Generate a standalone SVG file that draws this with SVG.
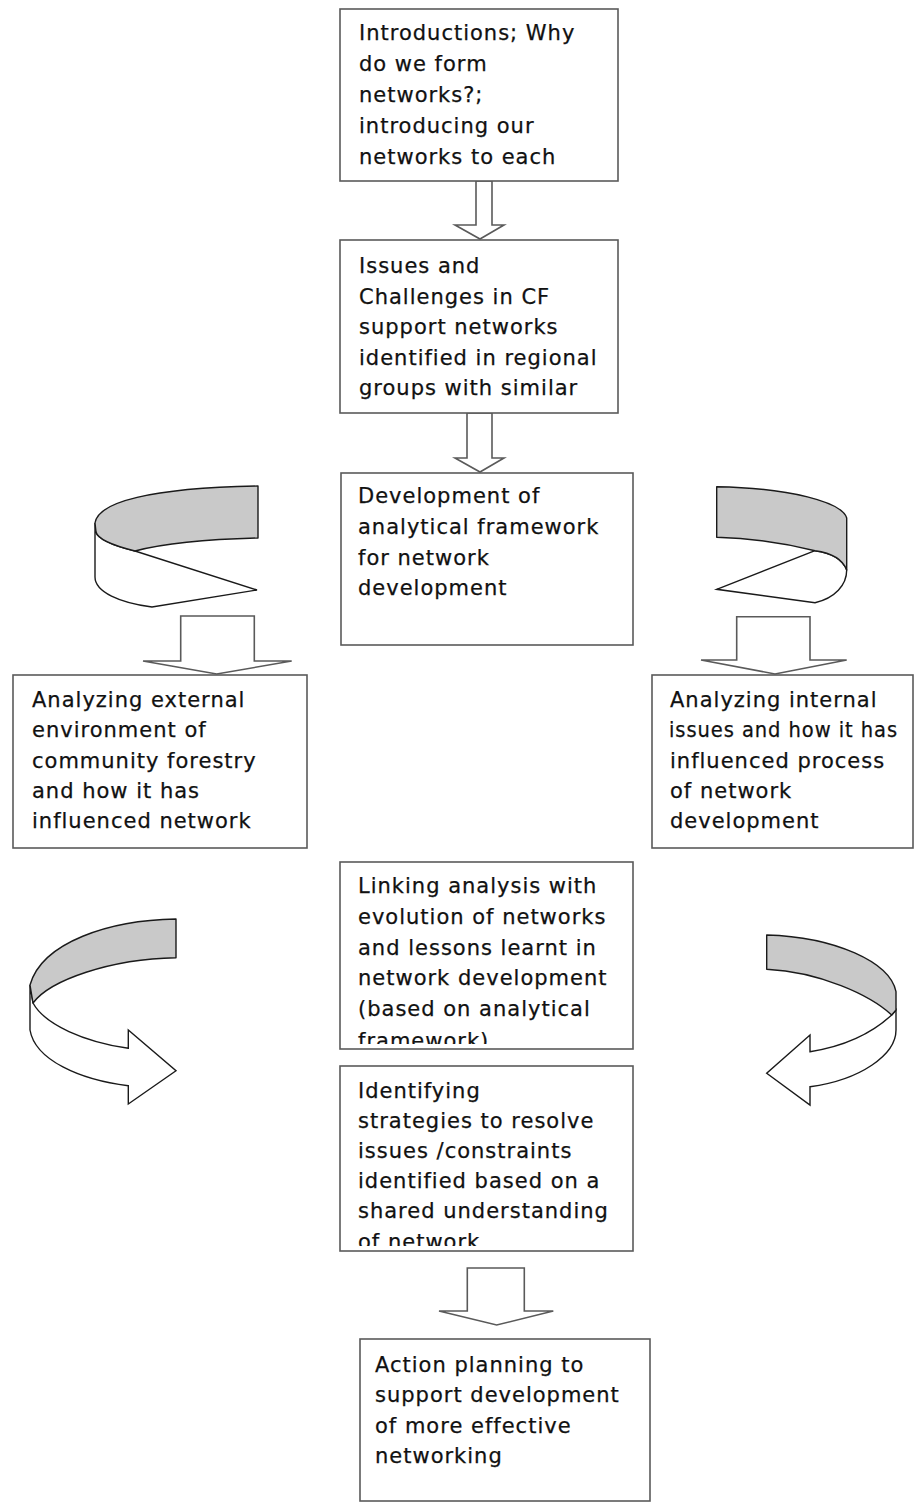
<svg xmlns="http://www.w3.org/2000/svg" width="917" height="1504" viewBox="0 0 917 1504">
  <style>
    .box { fill: #ffffff; stroke: #5a5a5a; stroke-width: 1.6; }
    .lbl { font-family: "DejaVu Sans", "Noto Sans", sans-serif; font-size: 21px; letter-spacing: 1px; fill: #111111; stroke: #111111; stroke-width: 0.25; }
    .blk { fill: #ffffff; stroke: #5a5a5a; stroke-width: 1.6; stroke-linejoin: miter; }
    .rib { fill: #c9c9c9; stroke: #1a1a1a; stroke-width: 1.4; stroke-linejoin: round; }
    .rib-w { fill: #ffffff; stroke: #1a1a1a; stroke-width: 1.4; stroke-linejoin: miter; }
  </style>
  <defs>
    <clipPath id="clipLinking"><rect x="340" y="862" width="293" height="182"/></clipPath>
    <clipPath id="clipStrategies"><rect x="340" y="1066" width="293" height="180"/></clipPath>
  </defs>

  <rect width="917" height="1504" fill="#ffffff"/>

  <!-- connectors: block arrows and curled ribbon arrows -->
  <g id="connectors">
    <polygon class="blk" points="476,181 476,225 455,225 480,239 504,225 492,225 492,181"/>
    <polygon class="blk" points="467,413 467,458 455,458 480,472 504,458 492,458 492,413"/>
    <polygon class="blk" points="180.7,616 180.7,661 143,661 216.7,674 291.7,661 254.3,661 254.3,616"/>
    <polygon class="blk" points="736.7,616.7 736.7,660 701,660 775,674 846.7,660 810,660 810,616.7"/>
    <polygon class="blk" points="467.3,1268 467.3,1311 439,1311 496.7,1325 553.3,1311 524.3,1311 524.3,1268"/>

    <!-- upper left curl -->
    <g id="curl-top-left">
      <path class="rib-w" d="M95,523 L95,577 C95,592 120,603 152,607 L257,590 L135,551 C115,546 98,540 96,532 Z"/>
      <path class="rib" d="M258,486 C150,488 98,502 95,523 L96,532 C98,540 115,546 135,551 C170,542 215,539 258,538 Z"/>
    </g>
    <!-- upper right curl -->
    <g id="curl-top-right">
      <path class="rib-w" d="M815,550.7 L716.7,589.3 L815,602.7 C835,598 846.7,585 846.7,570 C843,560 832,553 815,550.7 Z"/>
      <path class="rib" d="M716.7,486.7 C790,488 842,502 846.7,518 L846.7,570 C843,560 832,553 815,550.7 C780,542 745,538 716.7,537.3 Z"/>
    </g>
    <!-- lower left curl -->
    <g id="curl-bottom-left">
      <path class="rib-w" d="M30,985 L30,1030 C35,1060 80,1080 128.3,1085.7 L128.3,1104 L176,1070.7 L128.3,1030 L128.3,1048.3 C85,1042 45,1025 33,1003 Z"/>
      <path class="rib" d="M176,919 C110,920 42,942 30,985 L33,1003 C50,980 110,959 176,957.7 Z"/>
    </g>
    <!-- lower right curl -->
    <g id="curl-bottom-right">
      <path class="rib-w" d="M891.7,1015 C870,1035 840,1047 810,1051.7 L810,1035 L766.7,1073.3 L810,1105 L810,1086.7 C860,1080 896,1055 896,1030 L896,1010 Z"/>
      <path class="rib" d="M766.7,935 C835,937 890,962 896,991.7 L896,1010 L891.7,1015 C870,995 820,972 766.7,969.3 Z"/>
    </g>
  </g>

  <g id="introductions">
    <rect class="box" x="340" y="9" width="278" height="172"/>
    <text class="lbl" x="359" y="40">Introductions; Why</text>
    <text class="lbl" x="359" y="71">do we form</text>
    <text class="lbl" x="359" y="102">networks?;</text>
    <text class="lbl" x="359" y="133">introducing our</text>
    <text class="lbl" x="359" y="164">networks to each</text>
  </g>

  <g id="issues-challenges">
    <rect class="box" x="340" y="240" width="278" height="173"/>
    <text class="lbl" x="359" y="273">Issues and</text>
    <text class="lbl" x="359" y="303.5">Challenges in CF</text>
    <text class="lbl" x="359" y="334">support networks</text>
    <text class="lbl" x="359" y="364.5">identified in regional</text>
    <text class="lbl" x="359" y="395">groups with similar</text>
  </g>

  <g id="framework">
    <rect class="box" x="341" y="473" width="292" height="172"/>
    <text class="lbl" x="358" y="503">Development of</text>
    <text class="lbl" x="358" y="534">analytical framework</text>
    <text class="lbl" x="358" y="565">for network</text>
    <text class="lbl" x="358" y="595">development</text>
  </g>

  <g id="external">
    <rect class="box" x="13" y="675" width="294" height="173"/>
    <text class="lbl" x="32" y="707">Analyzing external</text>
    <text class="lbl" x="32" y="737">environment of</text>
    <text class="lbl" x="32" y="768">community forestry</text>
    <text class="lbl" x="32" y="798">and how it has</text>
    <text class="lbl" x="32" y="828">influenced network</text>
  </g>

  <g id="internal">
    <rect class="box" x="652" y="675" width="261" height="173"/>
    <text class="lbl" x="670" y="707">Analyzing internal</text>
    <text class="lbl" x="669" y="737" textLength="229" lengthAdjust="spacingAndGlyphs">issues and how it has</text>
    <text class="lbl" x="670" y="768">influenced process</text>
    <text class="lbl" x="670" y="798">of network</text>
    <text class="lbl" x="670" y="828">development</text>
  </g>

  <g id="linking">
    <rect class="box" x="340" y="862" width="293" height="187"/>
    <g clip-path="url(#clipLinking)">
      <text class="lbl" x="358" y="893">Linking analysis with</text>
      <text class="lbl" x="358" y="924">evolution of networks</text>
      <text class="lbl" x="358" y="954.5">and lessons learnt in</text>
      <text class="lbl" x="358" y="985">network development</text>
      <text class="lbl" x="358" y="1016">(based on analytical</text>
      <text class="lbl" x="358" y="1048">framework)</text>
    </g>
  </g>

  <g id="strategies">
    <rect class="box" x="340" y="1066" width="293" height="185"/>
    <g clip-path="url(#clipStrategies)">
      <text class="lbl" x="358" y="1098">Identifying</text>
      <text class="lbl" x="358" y="1128">strategies to resolve</text>
      <text class="lbl" x="358" y="1158">issues /constraints</text>
      <text class="lbl" x="358" y="1188">identified based on a</text>
      <text class="lbl" x="358" y="1218">shared understanding</text>
      <text class="lbl" x="358" y="1249">of network</text>
    </g>
  </g>

  <g id="action-planning">
    <rect class="box" x="360" y="1339" width="290" height="162"/>
    <text class="lbl" x="375" y="1372">Action planning to</text>
    <text class="lbl" x="375" y="1402">support development</text>
    <text class="lbl" x="375" y="1433">of more effective</text>
    <text class="lbl" x="375" y="1463">networking</text>
  </g>
</svg>
